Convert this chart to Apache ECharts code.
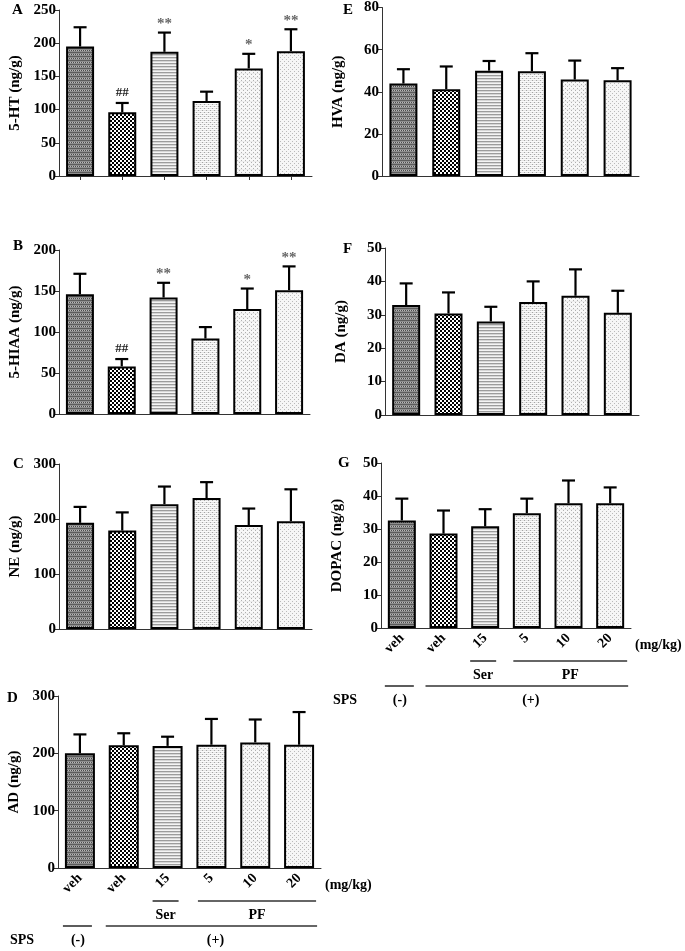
<!DOCTYPE html>
<html><head><meta charset="utf-8">
<script src="https://cdn.jsdelivr.net/npm/echarts@6/dist/echarts.min.js"></script>
<style>html,body{margin:0;padding:0;background:#fff}#c{width:685px;height:951px}</style>
</head><body><div id="c"></div>
<script>
// ---------- data ----------
const doses = ['veh', 'veh', '15', '5', '10', '20'];

const ht5Mean = [195, 96, 187, 113, 162, 188];
const ht5Err  = [29, 14, 29, 14, 22, 33];
const ht5Sig  = ['', '##', '**', '', '*', '**'];

const hiaaMean = [146, 58, 142, 92, 128, 151];
const hiaaErr  = [25, 9, 18, 14, 25, 29];
const hiaaSig  = ['', '##', '**', '', '*', '**'];

const neMean = [193, 179, 227, 238, 189, 196];
const neErr  = [29, 33, 32, 29, 30, 58];

const adMean = [200, 214, 213, 215, 219, 215];
const adErr  = [33, 21, 16, 45, 40, 57];

const hvaMean = [43.9, 41.2, 50.0, 49.7, 45.8, 45.5];
const hvaErr  = [6.8, 10.8, 4.6, 8.6, 9.0, 5.7];

const daMean = [32.9, 30.4, 28.0, 33.8, 35.7, 30.6];
const daErr  = [6.5, 6.3, 4.4, 6.2, 7.9, 6.6];

const dopacMean = [32.6, 28.6, 30.8, 34.8, 37.8, 37.8];
const dopacErr  = [6.6, 7.0, 5.2, 4.4, 6.9, 4.8];

// ---------- patterns ----------
function pat(w, h, fn) {
  const c = document.createElement('canvas');
  c.width = w; c.height = h;
  const ctx = c.getContext('2d');
  for (let y = 0; y < h; y++) for (let x = 0; x < w; x++) {
    ctx.fillStyle = fn(x, y); ctx.fillRect(x, y, 1, 1);
  }
  return { image: c, repeat: 'repeat' };
}
const patterns = [
  pat(4, 4, (x, y) => y % 4 === 0 ? '#5c5c5c' : (y % 4 === 2 ? ((x + y) % 2 ? '#4a4a4a' : '#b8b8b8') : '#8e8e8e')),
  pat(4, 4, (x, y) => (((x >> 1) + (y >> 1)) % 2) ? '#000' : '#fff'),
  pat(1, 3, (x, y) => y === 0 ? '#9c9c9c' : (y === 1 ? '#d6d6d6' : '#f4f4f4')),
  pat(4, 4, (x, y) => ((x === 0 && y === 0) || (x === 2 && y === 2)) ? '#a4a4a4' : (y % 2 === 0 ? '#e6e6e6' : '#fafafa')),
  pat(4, 4, (x, y) => ((x === 1 && y === 0) || (x === 3 && y === 2)) ? '#b0b0b0' : (y === 1 ? '#ececec' : '#f8f8f8')),
  pat(4, 4, (x, y) => ((x === 0 && y === 1) || (x === 2 && y === 3)) ? '#bababa' : '#f6f6f6')
];

// ---------- layout ----------
const FONT = 'Liberation Serif';
const panels = [
  { letter: 'A', name: '5-HT (ng/g)', mean: ht5Mean, err: ht5Err, sig: ht5Sig, max: 250, interval: 50, grid: { left: 59, top: 10, width: 253, height: 166 }, bw: 28, ticks: true },
  { letter: 'B', name: '5-HIAA (ng/g)', mean: hiaaMean, err: hiaaErr, sig: hiaaSig, max: 200, interval: 50, grid: { left: 59, top: 250, width: 251, height: 164 }, bw: 28 },
  { letter: 'C', name: 'NE (ng/g)', mean: neMean, err: neErr, max: 300, interval: 100, grid: { left: 59, top: 464, width: 253, height: 165 }, bw: 28 },
  { letter: 'D', name: 'AD (ng/g)', mean: adMean, err: adErr, max: 300, interval: 100, grid: { left: 58, top: 696, width: 263, height: 172 }, bw: 30, labels: true },
  { letter: 'E', name: 'HVA (ng/g)', mean: hvaMean, err: hvaErr, max: 80, interval: 20, grid: { left: 382, top: 7, width: 257, height: 169 }, bw: 28 },
  { letter: 'F', name: 'DA (ng/g)', mean: daMean, err: daErr, max: 50, interval: 10, grid: { left: 385, top: 248, width: 254, height: 167 }, bw: 28 },
  { letter: 'G', name: 'DOPAC (ng/g)', mean: dopacMean, err: dopacErr, max: 50, interval: 10, grid: { left: 381, top: 463, width: 250, height: 165 }, bw: 28, labels: true }
];

const grids = [], xAxes = [], yAxes = [], series = [];
panels.forEach((p, k) => {
  grids.push(p.grid);
  xAxes.push({
    type: 'category', gridIndex: k, data: doses,
    axisLine: { lineStyle: { color: '#333', width: 1 } },
    axisTick: { show: !!p.ticks, alignWithLabel: true, length: 4, lineStyle: { color: '#333' } },
    axisLabel: { show: !!p.labels, rotate: 45, margin: 8, fontFamily: FONT, fontWeight: 'bold', fontSize: 14, color: '#000' }
  });
  yAxes.push({
    type: 'value', gridIndex: k, min: 0, max: p.max, interval: p.interval,
    splitLine: { show: false },
    axisLine: { show: true, lineStyle: { color: '#333', width: 1 } },
    axisTick: { show: true, length: 4, lineStyle: { color: '#333' } },
    axisLabel: { margin: 3, fontFamily: FONT, fontWeight: 'bold', fontSize: 15, color: '#000' },
    name: p.name, nameLocation: 'middle', nameGap: 36,
    nameTextStyle: { fontFamily: FONT, fontWeight: 'bold', fontSize: 15, color: '#000' }
  });
  series.push({
    type: 'bar', xAxisIndex: k, yAxisIndex: k, barWidth: p.bw, z: 2,
    data: p.mean.map((v, i) => ({ value: v, itemStyle: { color: patterns[i], borderColor: '#000', borderWidth: 2 } }))
  });
  series.push({
    type: 'custom', xAxisIndex: k, yAxisIndex: k, z: 3,
    data: p.mean.map((v, i) => [i, v, v + p.err[i]]),
    encode: { x: 0, y: [1, 2] },
    renderItem: (params, api) => {
      const x = api.value(0), m = api.value(1), u = api.value(2);
      const a = api.coord([x, m]), b = api.coord([x, u]);
      const hw = 6.5;
      return { type: 'group', children: [
        { type: 'line', shape: { x1: a[0], y1: a[1], x2: b[0], y2: b[1] }, style: { stroke: '#000', lineWidth: 2.2 } },
        { type: 'line', shape: { x1: b[0] - hw, y1: b[1], x2: b[0] + hw, y2: b[1] }, style: { stroke: '#000', lineWidth: 2.2 } }
      ] };
    }
  });
  if (p.sig) {
    series.push({
      type: 'custom', xAxisIndex: k, yAxisIndex: k, z: 4,
      data: p.mean.map((v, i) => [i, v + p.err[i], p.sig[i]]),
      encode: { x: 0, y: 1 },
      renderItem: (params, api) => {
        const i = params.dataIndex;
        const s = p.sig[i];
        if (!s) return null;
        const b = api.coord([api.value(0), api.value(1)]);
        const isHash = s[0] === '#';
        return { type: 'text', x: b[0], y: b[1] - (isHash ? 4 : 1),
          style: { text: s, textAlign: 'center', textVerticalAlign: 'bottom',
            font: 'bold ' + (isHash ? 13 : 15) + 'px "' + FONT + '"', fill: isHash ? '#222' : '#666' } };
      }
    });
  }
});

const letterPos = [[12, 3], [13, 239], [13, 457], [7, 691], [343, 3], [343, 242], [338, 456]];
const graphics = panels.map((p, k) => ({
  type: 'text', left: letterPos[k][0], top: letterPos[k][1],
  style: { text: p.letter, font: 'bold 15px "' + FONT + '"', fill: '#000' }
}));

const chart = echarts.init(document.getElementById('c'), null, { renderer: 'canvas' });
chart.setOption({ animation: false, backgroundColor: '#fff', grid: grids, xAxis: xAxes, yAxis: yAxes, series: series, graphic: graphics });

// group annotation under panels D and G, positioned from the axes
function groupMarks(k) {
  const px = i => chart.convertToPixel({ xAxisIndex: k, yAxisIndex: k }, [i, 0]);
  const y0 = px(0)[1];
  const c = [0, 1, 2, 3, 4, 5].map(i => px(i)[0]);
  const g = panels[k].grid;
  const axEnd = g.left + g.width;
  const tf = 'bold 14px "' + FONT + '"';
  const line = (x1, x2, y) => ({ type: 'line', shape: { x1, y1: y, x2, y2: y }, style: { stroke: '#333', lineWidth: 1.6 } });
  const txt = (t, x, y, align) => ({ type: 'text', x, y, style: { text: t, font: tf, fill: '#000', textAlign: align || 'center', textVerticalAlign: 'middle' } });
  const serL = c[2] - 15, serR = c[2] + 11;
  const pfL = c[3] - 13.5, pfR = c[5] + 17;
  return [
    txt('(mg/kg)', axEnd + 4, y0 + 17, 'left'),
    line(serL, serR, y0 + 33),
    line(pfL, pfR, y0 + 33),
    txt('Ser', (serL + serR) / 2, y0 + 47),
    txt('PF', (pfL + pfR) / 2, y0 + 47),
    line(c[0] - 17, c[0] + 12, y0 + 58),
    line(c[1] - 18, c[5] + 18, y0 + 58),
    txt('SPS', g.left - 48, y0 + 72, 'left'),
    txt('(-)', c[0] - 2, y0 + 72),
    txt('(+)', (c[1] + c[5]) / 2 + 4, y0 + 72)
  ];
}
chart.setOption({ graphic: graphics.concat(groupMarks(3), groupMarks(6)) });
</script>
</body></html>
